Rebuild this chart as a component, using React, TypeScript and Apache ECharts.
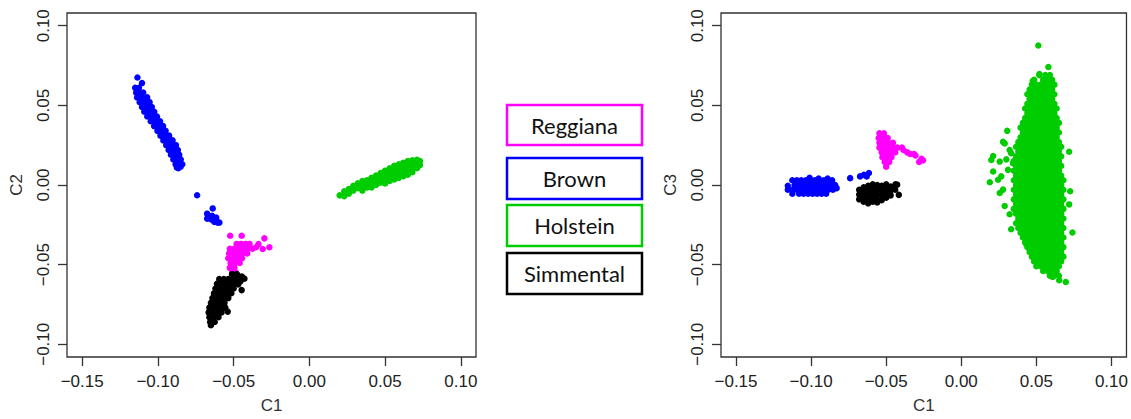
import React, { useEffect, useRef } from "react";
import * as echarts from "echarts";

// ---------- tick values ----------
const xTicks = [-0.15, -0.1, -0.05, 0, 0.05, 0.1];
const yTicks = [-0.1, -0.05, 0, 0.05, 0.1];

// ---------- legend ----------
const breeds = ["Reggiana", "Brown", "Holstein", "Simmental"];
const breedColors = ["#FF00FF", "#0000FF", "#00CD00", "#000000"];

// ---------- Plot 1: C1 vs C2 ----------
const brownC2: number[][] = [
  [-0.1135, 0.0675], [-0.1105, 0.064],
  [-0.115, 0.061], [-0.1125, 0.061],
  [-0.1143, 0.058], [-0.112, 0.058], [-0.1097, 0.058],
  [-0.1137, 0.055], [-0.1105, 0.055], [-0.1071, 0.055],
  [-0.112, 0.052], [-0.109, 0.052], [-0.1055, 0.052],
  [-0.1105, 0.049], [-0.107, 0.049], [-0.104, 0.049],
  [-0.109, 0.046], [-0.1057, 0.046], [-0.1024, 0.046],
  [-0.107, 0.043], [-0.1038, 0.043], [-0.1006, 0.043],
  [-0.1047, 0.04], [-0.1016, 0.04], [-0.0986, 0.04],
  [-0.1025, 0.037], [-0.0995, 0.037], [-0.0966, 0.037],
  [-0.1003, 0.034], [-0.0976, 0.034], [-0.0949, 0.034],
  [-0.0983, 0.031], [-0.0955, 0.031], [-0.0926, 0.031],
  [-0.0964, 0.028], [-0.0934, 0.028], [-0.0903, 0.028],
  [-0.0945, 0.025], [-0.0913, 0.025], [-0.0881, 0.025],
  [-0.0929, 0.022], [-0.0898, 0.022], [-0.0868, 0.022],
  [-0.0914, 0.019], [-0.0886, 0.019], [-0.0859, 0.019],
  [-0.0898, 0.016], [-0.0873, 0.016], [-0.0849, 0.016],
  [-0.0883, 0.013], [-0.0861, 0.013], [-0.0839, 0.013],
  [-0.0875, 0.011], [-0.085, 0.0115], [-0.0865, 0.0105],
  [-0.0741, -0.0064], [-0.0638, -0.0147], [-0.0675, -0.018], [-0.0675, -0.0211],
  [-0.0642, -0.0194], [-0.0615, -0.0205], [-0.0627, -0.0232], [-0.0605, -0.0236],
  [-0.0594, -0.0236], [-0.0648, -0.0216],
];

const reggianaC2: number[][] = [
  [-0.0523, -0.0319], [-0.0447, -0.0319], [-0.0297, -0.0335], [-0.0264, -0.0391],
  [-0.0336, -0.0371], [-0.0352, -0.0391], [-0.0308, -0.0402],
  [-0.048, -0.037], [-0.045, -0.037], [-0.042, -0.037], [-0.0395, -0.037],
  [-0.0525, -0.04], [-0.0495, -0.04], [-0.0465, -0.04], [-0.0435, -0.04], [-0.0405, -0.04], [-0.0375, -0.04],
  [-0.053, -0.043], [-0.05, -0.043], [-0.047, -0.043], [-0.044, -0.043], [-0.041, -0.043],
  [-0.0535, -0.046], [-0.0505, -0.046], [-0.0475, -0.046], [-0.0445, -0.046],
  [-0.052, -0.049], [-0.049, -0.049], [-0.046, -0.049],
  [-0.0525, -0.052], [-0.0495, -0.052],
  [-0.051, -0.055], [-0.0485, -0.055],
];

const holsteinC2: number[][] = [
  [0.02, -0.0065],
  [0.023, -0.004], [0.023, -0.007],
  [0.026, -0.0025], [0.026, -0.0055],
  [0.029, -0.0005], [0.029, -0.0035],
  [0.032, 0.001], [0.032, -0.002],
  [0.035, 0.0025], [0.035, -0.0005], [0.035, -0.0035],
  [0.038, 0.003], [0.038, 0.0], [0.038, -0.0015],
  [0.041, 0.0045], [0.041, 0.0015], [0.041, -0.0015],
  [0.044, 0.006], [0.044, 0.003], [0.044, 0.0],
  [0.047, 0.0075], [0.047, 0.0045], [0.047, 0.0015],
  [0.05, 0.009], [0.05, 0.006], [0.05, 0.003], [0.05, 0.001],
  [0.053, 0.0105], [0.053, 0.0075], [0.053, 0.0045], [0.053, 0.0025],
  [0.056, 0.012], [0.056, 0.009], [0.056, 0.006], [0.056, 0.0035],
  [0.059, 0.013], [0.059, 0.01], [0.059, 0.007], [0.059, 0.0045],
  [0.062, 0.014], [0.062, 0.011], [0.062, 0.008], [0.062, 0.0055],
  [0.065, 0.015], [0.065, 0.012], [0.065, 0.009], [0.065, 0.0065],
  [0.068, 0.0155], [0.068, 0.0125], [0.068, 0.0095], [0.068, 0.008],
  [0.071, 0.0158], [0.071, 0.013], [0.071, 0.0105],
  [0.073, 0.015], [0.073, 0.0125],
];

const simmentalC2: number[][] = [
  [-0.051, -0.056], [-0.048, -0.056],
  [-0.0595, -0.059], [-0.0565, -0.059], [-0.0535, -0.059], [-0.0505, -0.059], [-0.048, -0.059],
  [-0.061, -0.062], [-0.058, -0.062], [-0.055, -0.062], [-0.052, -0.062], [-0.049, -0.062],
  [-0.062, -0.065], [-0.059, -0.065], [-0.056, -0.065], [-0.053, -0.065], [-0.05, -0.065],
  [-0.063, -0.068], [-0.06, -0.068], [-0.057, -0.068], [-0.054, -0.068], [-0.0515, -0.068],
  [-0.064, -0.071], [-0.061, -0.071], [-0.058, -0.071], [-0.055, -0.071], [-0.0535, -0.071],
  [-0.065, -0.074], [-0.062, -0.074], [-0.059, -0.074], [-0.056, -0.074],
  [-0.066, -0.077], [-0.063, -0.077], [-0.06, -0.077], [-0.057, -0.077], [-0.0555, -0.077],
  [-0.0665, -0.08], [-0.0635, -0.08], [-0.0605, -0.08], [-0.058, -0.08],
  [-0.066, -0.083], [-0.063, -0.083], [-0.06, -0.083],
  [-0.0655, -0.086], [-0.0625, -0.086],
  [-0.065, -0.088],
  [-0.0429, -0.0588], [-0.0447, -0.066], [-0.0473, -0.0567], [-0.0445, -0.0575],
  [-0.0539, -0.0795], [-0.0455, -0.0605], [-0.047, -0.0625],
];

// ---------- Plot 2: C1 vs C3 ----------
const brownC3: number[][] = [
  [-0.1155, -0.0005], [-0.1155, -0.003],
  [-0.1125, 0.003], [-0.1095, 0.003], [-0.1065, 0.003], [-0.1035, 0.003], [-0.1005, 0.003],
  [-0.0975, 0.003], [-0.0945, 0.003], [-0.0915, 0.003], [-0.0885, 0.003], [-0.086, 0.003],
  [-0.101, 0.0045], [-0.095, 0.004], [-0.089, 0.004],
  [-0.111, 0.0], [-0.108, 0.0], [-0.105, 0.0], [-0.102, 0.0], [-0.099, 0.0], [-0.096, 0.0],
  [-0.093, 0.0], [-0.09, 0.0], [-0.087, 0.0], [-0.084, 0.0],
  [-0.1125, -0.003], [-0.1095, -0.003], [-0.1065, -0.003], [-0.1035, -0.003], [-0.1005, -0.003],
  [-0.0975, -0.003], [-0.0945, -0.003], [-0.0915, -0.003], [-0.0885, -0.003], [-0.0855, -0.003], [-0.083, -0.002],
  [-0.1125, -0.0055], [-0.108, -0.0055], [-0.105, -0.0055], [-0.102, -0.0055], [-0.099, -0.0055],
  [-0.096, -0.0055], [-0.093, -0.0055], [-0.09, -0.0055],
  [-0.074, 0.0043], [-0.0674, 0.0054], [-0.0648, 0.0064], [-0.0615, 0.0075], [-0.063, 0.0054],
];

const reggianaC3: number[][] = [
  [-0.0545, 0.0325], [-0.0515, 0.0325],
  [-0.055, 0.0295], [-0.052, 0.0295], [-0.049, 0.0295],
  [-0.0545, 0.0265], [-0.0515, 0.0265], [-0.0485, 0.0265], [-0.0455, 0.0265],
  [-0.0545, 0.0235], [-0.0515, 0.0235], [-0.0485, 0.0235], [-0.0455, 0.0235], [-0.0425, 0.0235], [-0.0395, 0.0235],
  [-0.053, 0.0205], [-0.05, 0.0205], [-0.047, 0.0205], [-0.044, 0.0205],
  [-0.0525, 0.0175], [-0.0495, 0.0175], [-0.0465, 0.0175],
  [-0.051, 0.0145], [-0.048, 0.0145],
  [-0.05, 0.0115],
  [-0.036, 0.0205], [-0.034, 0.0195], [-0.0315, 0.0195], [-0.0305, 0.0185],
  [-0.0265, 0.0165], [-0.0255, 0.0155], [-0.028, 0.0145], [-0.0385, 0.022],
];

const simmentalC3: number[][] = [
  [-0.068, -0.003], [-0.068, -0.006], [-0.068, -0.009],
  [-0.065, -0.0015], [-0.065, -0.0045], [-0.065, -0.0075], [-0.065, -0.0105],
  [-0.062, -0.0005], [-0.062, -0.003], [-0.062, -0.006], [-0.062, -0.009], [-0.062, -0.0115],
  [-0.059, 0.0005], [-0.059, -0.0015], [-0.059, -0.0045], [-0.059, -0.0075], [-0.059, -0.0105],
  [-0.056, 0.0], [-0.056, -0.003], [-0.056, -0.006], [-0.056, -0.009], [-0.056, -0.011],
  [-0.053, -0.0005], [-0.053, -0.0035], [-0.053, -0.0065], [-0.053, -0.0095],
  [-0.05, 0.0005], [-0.05, -0.002], [-0.05, -0.005], [-0.05, -0.008],
  [-0.047, -0.001], [-0.047, -0.0035], [-0.047, -0.0065],
  [-0.044, -0.0005], [-0.044, -0.003],
  [-0.0427, 0.0002], [-0.0416, -0.0062], [-0.0438, 0.0005],
];

// Holstein C3: each row is [C3 value, list of C1 values]
const holsteinC3Rows: [number, number[]][] = [
  [0.069, [0.052, 0.056, 0.059]],
  [0.066, [0.0485, 0.0545, 0.0575, 0.0605]],
  [0.063, [0.047, 0.05, 0.053, 0.056, 0.059, 0.062]],
  [0.06, [0.0455, 0.0485, 0.0515, 0.0545, 0.0575, 0.0605]],
  [0.057, [0.044, 0.047, 0.05, 0.053, 0.056, 0.059, 0.062]],
  [0.054, [0.0455, 0.0485, 0.0515, 0.0545, 0.0575, 0.0605]],
  [0.051, [0.044, 0.047, 0.05, 0.053, 0.056, 0.059, 0.062]],
  [0.048, [0.0425, 0.0455, 0.0485, 0.0515, 0.0545, 0.0575, 0.0605, 0.0635]],
  [0.045, [0.044, 0.047, 0.05, 0.053, 0.056, 0.059, 0.062]],
  [0.042, [0.0425, 0.0455, 0.0485, 0.0515, 0.0545, 0.0575, 0.0605, 0.0635]],
  [0.039, [0.041, 0.044, 0.047, 0.05, 0.053, 0.056, 0.059, 0.062, 0.065]],
  [0.036, [0.0395, 0.0425, 0.0455, 0.0485, 0.0515, 0.0545, 0.0575, 0.0605, 0.0635]],
  [0.033, [0.041, 0.044, 0.047, 0.05, 0.053, 0.056, 0.059, 0.062, 0.065]],
  [0.03, [0.0395, 0.0425, 0.0455, 0.0485, 0.0515, 0.0545, 0.0575, 0.0605, 0.0635]],
  [0.027, [0.038, 0.041, 0.044, 0.047, 0.05, 0.053, 0.056, 0.059, 0.062, 0.065]],
  [0.024, [0.0365, 0.0395, 0.0425, 0.0455, 0.0485, 0.0515, 0.0545, 0.0575, 0.0605, 0.0635, 0.0665]],
  [0.021, [0.038, 0.041, 0.044, 0.047, 0.05, 0.053, 0.056, 0.059, 0.062, 0.065]],
  [0.018, [0.0365, 0.0395, 0.0425, 0.0455, 0.0485, 0.0515, 0.0545, 0.0575, 0.0605, 0.0635, 0.0665]],
  [0.015, [0.035, 0.038, 0.041, 0.044, 0.047, 0.05, 0.053, 0.056, 0.059, 0.062, 0.065]],
  [0.012, [0.0365, 0.0395, 0.0425, 0.0455, 0.0485, 0.0515, 0.0545, 0.0575, 0.0605, 0.0635, 0.0665]],
  [0.009, [0.035, 0.038, 0.041, 0.044, 0.047, 0.05, 0.053, 0.056, 0.059, 0.062, 0.065]],
  [0.006, [0.0365, 0.0395, 0.0425, 0.0455, 0.0485, 0.0515, 0.0545, 0.0575, 0.0605, 0.0635, 0.0665]],
  [0.003, [0.035, 0.038, 0.041, 0.044, 0.047, 0.05, 0.053, 0.056, 0.059, 0.062, 0.065, 0.068]],
  [0.0, [0.0365, 0.0395, 0.0425, 0.0455, 0.0485, 0.0515, 0.0545, 0.0575, 0.0605, 0.0635, 0.0665]],
  [-0.003, [0.035, 0.038, 0.041, 0.044, 0.047, 0.05, 0.053, 0.056, 0.059, 0.062, 0.065, 0.068]],
  [-0.006, [0.0365, 0.0395, 0.0425, 0.0455, 0.0485, 0.0515, 0.0545, 0.0575, 0.0605, 0.0635, 0.0665]],
  [-0.009, [0.035, 0.038, 0.041, 0.044, 0.047, 0.05, 0.053, 0.056, 0.059, 0.062, 0.065, 0.068]],
  [-0.012, [0.0365, 0.0395, 0.0425, 0.0455, 0.0485, 0.0515, 0.0545, 0.0575, 0.0605, 0.0635, 0.0665]],
  [-0.015, [0.035, 0.038, 0.041, 0.044, 0.047, 0.05, 0.053, 0.056, 0.059, 0.062, 0.065, 0.068]],
  [-0.018, [0.0365, 0.0395, 0.0425, 0.0455, 0.0485, 0.0515, 0.0545, 0.0575, 0.0605, 0.0635, 0.0665]],
  [-0.021, [0.038, 0.041, 0.044, 0.047, 0.05, 0.053, 0.056, 0.059, 0.062, 0.065, 0.068]],
  [-0.024, [0.0365, 0.0395, 0.0425, 0.0455, 0.0485, 0.0515, 0.0545, 0.0575, 0.0605, 0.0635, 0.0665]],
  [-0.027, [0.038, 0.041, 0.044, 0.047, 0.05, 0.053, 0.056, 0.059, 0.062, 0.065, 0.068]],
  [-0.03, [0.0395, 0.0425, 0.0455, 0.0485, 0.0515, 0.0545, 0.0575, 0.0605, 0.0635, 0.0665]],
  [-0.033, [0.041, 0.044, 0.047, 0.05, 0.053, 0.056, 0.059, 0.062, 0.065, 0.068]],
  [-0.036, [0.0425, 0.0455, 0.0485, 0.0515, 0.0545, 0.0575, 0.0605, 0.0635, 0.0665]],
  [-0.039, [0.044, 0.047, 0.05, 0.053, 0.056, 0.059, 0.062, 0.065, 0.068]],
  [-0.042, [0.0455, 0.0485, 0.0515, 0.0545, 0.0575, 0.0605, 0.0635, 0.0665]],
  [-0.045, [0.047, 0.05, 0.053, 0.056, 0.059, 0.062, 0.065, 0.068]],
  [-0.048, [0.0485, 0.0515, 0.0545, 0.0575, 0.0605, 0.0635, 0.0665]],
  [-0.051, [0.05, 0.053, 0.056, 0.059, 0.062, 0.065]],
  [-0.054, [0.0545, 0.0575, 0.0605, 0.0635]],
  [-0.057, [0.059, 0.062, 0.065]],
];

const holsteinC3Outliers: number[][] = [
  [0.0513, 0.0876], [0.058, 0.0741], [0.0476, 0.0654], [0.052, 0.0696],
  [0.0306, 0.034], [0.0289, 0.0261], [0.0278, 0.0271], [0.0322, 0.0219], [0.0332, 0.0199],
  [0.0212, 0.0182], [0.02, 0.0157], [0.0256, 0.0147], [0.03, 0.0161], [0.0344, 0.0137],
  [0.0212, 0.0085], [0.019, 0.0017], [0.0266, 0.0054], [0.0245, 0.0033], [0.0311, 0.0095],
  [0.0278, -0.0029], [0.0256, -0.005], [0.0289, -0.0132], [0.0322, -0.0184], [0.0332, -0.0278],
  [0.0432, -0.0371], [0.0718, 0.0209], [0.0725, -0.0039], [0.0718, -0.0122], [0.074, -0.0298],
  [0.0586, -0.0547], [0.0608, -0.0578], [0.0652, -0.0598], [0.0696, -0.0609],
];

const holsteinC3: number[][] = [
  ...holsteinC3Rows.flatMap(([y, xs]) => xs.map((x) => [x, y])),
  ...holsteinC3Outliers,
];

const plot1Data = [reggianaC2, brownC2, holsteinC2, simmentalC2];
const plot2Data = [reggianaC3, brownC3, holsteinC3, simmentalC3];

const FONT = "'Liberation Sans', Arial, sans-serif";
const fmt = (v: number) => v.toFixed(2).replace("-", "\u2212");

function makeXAxis(gridIndex: number) {
  return {
    gridIndex,
    type: "value",
    min: -0.16,
    max: 0.11,
    name: "C1",
    nameLocation: "middle",
    nameGap: 40,
    nameTextStyle: { fontSize: 17, fontFamily: FONT, color: "#333" },
    splitLine: { show: false },
    axisLine: { show: false, onZero: false },
    axisTick: {
      show: true,
      inside: false,
      length: 9,
      customValues: xTicks,
      lineStyle: { color: "#333", width: 1.3 },
    },
    axisLabel: {
      customValues: xTicks,
      formatter: fmt,
      fontSize: 17,
      fontFamily: FONT,
      color: "#222",
      margin: 16,
    },
  };
}

function makeYAxis(gridIndex: number, name: string) {
  return {
    gridIndex,
    type: "value",
    min: -0.108,
    max: 0.108,
    name,
    nameLocation: "middle",
    nameGap: 42,
    nameTextStyle: { fontSize: 17, fontFamily: FONT, color: "#333" },
    splitLine: { show: false },
    axisLine: { show: false, onZero: false },
    axisTick: {
      show: true,
      inside: false,
      length: 9,
      customValues: yTicks,
      lineStyle: { color: "#333", width: 1.3 },
    },
    axisLabel: {
      customValues: yTicks,
      formatter: fmt,
      rotate: 90,
      fontSize: 17,
      fontFamily: FONT,
      color: "#222",
      margin: 15,
    },
  };
}

const legendBoxes = [
  { y: 105, h: 40 },
  { y: 158, h: 41 },
  { y: 205, h: 41 },
  { y: 253, h: 41 },
];

export default function App() {
  const ref = useRef<HTMLDivElement>(null);
  useEffect(() => {
    if (!ref.current) return;
    const chart = echarts.init(ref.current, null, { renderer: "svg" });
    const series: any[] = [];
    plot1Data.forEach((d, i) => {
      series.push({
        type: "scatter",
        name: breeds[i],
        xAxisIndex: 0,
        yAxisIndex: 0,
        data: d,
        symbolSize: 6.5,
        itemStyle: { color: breedColors[i], opacity: 1 },
        silent: true,
      });
    });
    plot2Data.forEach((d, i) => {
      series.push({
        type: "scatter",
        name: breeds[i],
        xAxisIndex: 1,
        yAxisIndex: 1,
        data: d,
        symbolSize: 6.5,
        itemStyle: { color: breedColors[i], opacity: 1 },
        silent: true,
      });
    });
    const graphic: any[] = [];
    breeds.forEach((b, i) => {
      const box = legendBoxes[i];
      graphic.push({
        type: "rect",
        shape: { x: 507, y: box.y, width: 135, height: box.h },
        style: { fill: "#fff", stroke: breedColors[i], lineWidth: 2.5 },
        silent: true,
      });
      graphic.push({
        type: "text",
        x: 574.5,
        y: box.y + box.h / 2,
        style: {
          text: b,
          fill: "#111",
          font: "22px Lato, 'Open Sans', sans-serif",
          align: "center",
          verticalAlign: "middle",
        },
        silent: true,
      });
    });
    chart.setOption({
      animation: false,
      backgroundColor: "#ffffff",
      grid: [
        { left: 67, top: 13, width: 409, height: 348, show: true, borderColor: "#333", borderWidth: 1.3, backgroundColor: "transparent" },
        { left: 721, top: 13, width: 408, height: 348, show: true, borderColor: "#333", borderWidth: 1.3, backgroundColor: "transparent" },
      ],
      xAxis: [makeXAxis(0), makeXAxis(1)],
      yAxis: [makeYAxis(0, "C2"), makeYAxis(1, "C3")],
      series,
      graphic,
    });
    return () => chart.dispose();
  }, []);
  return (
    <div
      ref={ref}
      style={{ position: "fixed", left: 0, top: 0, width: 1131, height: 419, background: "#fff" }}
    />
  );
}
